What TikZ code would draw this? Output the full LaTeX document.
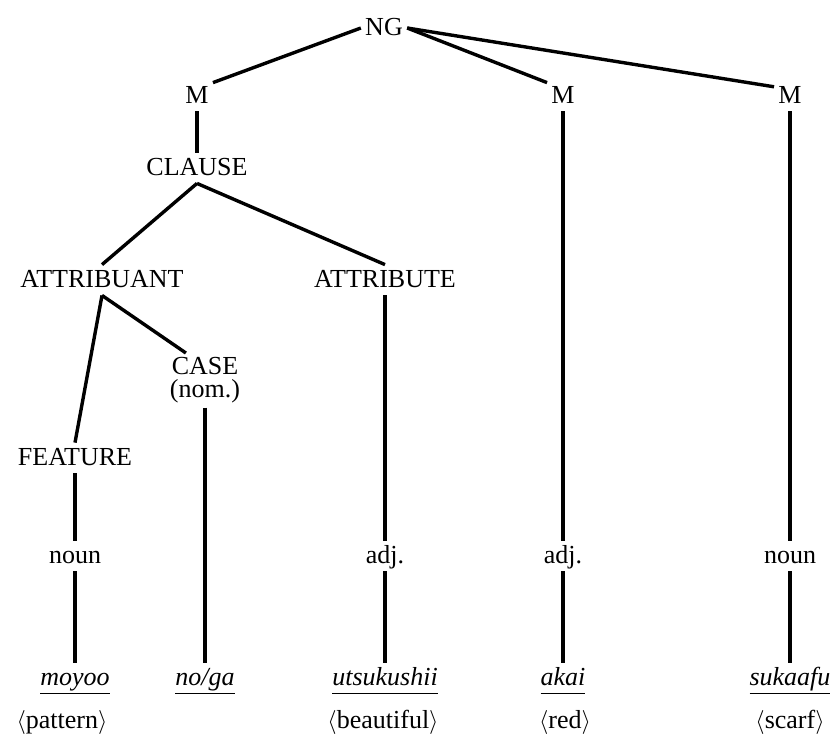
\documentclass[tikz,border=0pt]{standalone}
\usepackage{fontspec}
\setmainfont{Liberation Serif}
\usepackage{tikz}
\newcommand{\underword}[1]{\underline{#1\vphantom{y}}}
\tikzset{
	lab/.style={font=\fontsize{13}{11.5}\selectfont, inner sep=2pt, text height=9pt, text depth=2pt, anchor=base},
	word/.style={lab, font=\fontsize{13}{11.5}\selectfont\itshape},
	branch/.style={line width=1.7pt}
}

\begin{document}
\begin{tikzpicture}[x=0.5pt, y=-0.5pt]
		%%%%% START %%%%%
		\useasboundingbox (0, 0) rectangle (838, 746);
		
		\node[lab] (ng) at (384, 35) {NG};
		\node[lab] (m1) at (197, 103) {M};
		\node[lab] (m2) at (563, 103) {M};
		\node[lab] (m3) at (790, 103) {M};
		
		\node[lab] (clause) at (197, 175) {CLAUSE};
		\node[lab] (attribuant) at (102, 287) {ATTRIBUANT};
		\node[lab] (attribute) at (385, 287) {ATTRIBUTE};
		\node[font=\fontsize{13}{11.5}\selectfont, inner sep=2pt, align=center, anchor=north] (case) at (205, 353) {CASE\\(nom.)};
		\node[lab] (feature) at (75, 465) {FEATURE};
		
		\node[lab] (noun1) at (75, 563) {noun};
		\node[lab] (adj1) at (385, 563) {adj.};
		\node[lab] (adj2) at (563, 563) {adj.};
		\node[lab] (noun2) at (790, 563) {noun};
		
		\node[word] (moyoo) at (75, 685) {\underword{moyoo}};
		\node[word] (noga) at (205, 685) {\underword{no/ga}};
		\node[word] (utsukushii) at (385, 685) {\underword{utsukushii}};
		\node[word] (akai) at (563, 685) {\underword{akai}};
		\node[word] (sukaafu) at (790, 685) {\underword{sukaafu}};
		
		\node[lab] (gpattern) at (62, 728) {$\langle$pattern$\rangle$};
		\node[lab] (gbeautiful) at (383, 728) {$\langle$beautiful$\rangle$};
		\node[lab] (gred) at (565, 728) {$\langle$red$\rangle$};
		\node[lab] (gscarf) at (790, 728) {$\langle$scarf$\rangle$};
		
		\draw[branch] (ng.west) -- (m1.40);
		\draw[branch] (ng.east) -- (m2.140);
		\draw[branch] (ng.east) -- (m3.150);
		
		\draw[branch] (m1) -- (clause);
		\draw[branch] (clause.south) -- (attribuant.north);
		\draw[branch] (clause.south) -- (attribute.north);
		\draw[branch] (attribuant.south) -- (feature.north);
		\draw[branch] (attribuant.south) -- (case.125);
		
		\draw[branch] (feature) -- (noun1);
		\draw[branch] (noun1) -- (moyoo);
		\draw[branch] (case) -- (noga);
		\draw[branch] (attribute) -- (adj1);
		\draw[branch] (adj1) -- (utsukushii);
		\draw[branch] (m2) -- (adj2);
		\draw[branch] (adj2) -- (akai);
		\draw[branch] (m3) -- (noun2);
		\draw[branch] (noun2) -- (sukaafu);
		
		%%%%% END %%%%%
	\end{tikzpicture}
\end{document}
